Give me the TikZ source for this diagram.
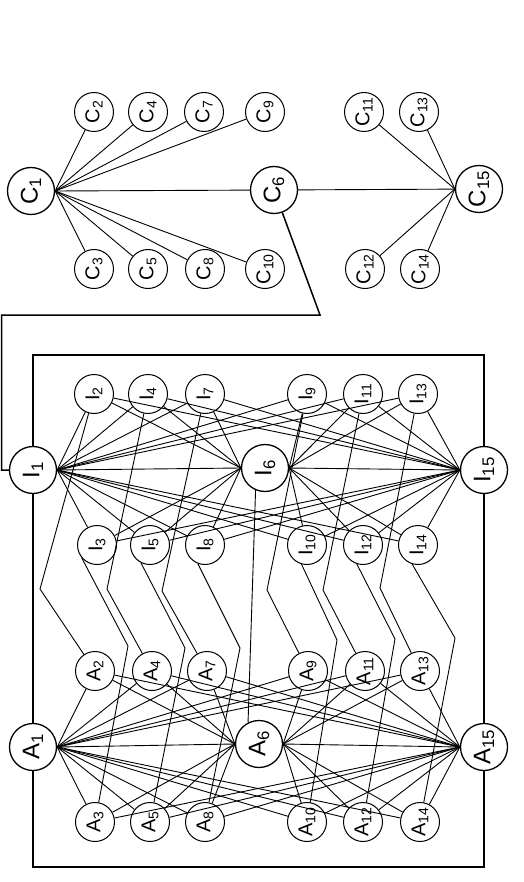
\documentclass[tikz,border=0pt]{standalone}
\usepackage{fontspec}
\setmainfont{Liberation Sans}
\usepackage{graphicx}
\usetikzlibrary{calc}

\newcommand{\lbl}[2]{\rotatebox{90}{#1\textsubscript{#2}}}

\begin{document}
\begin{tikzpicture}[x=1pt,y=-1pt,
  small/.style={circle,draw,line width=1pt,minimum size=39pt,inner sep=0pt,
    font=\fontsize{20}{20}\selectfont},
  hub/.style={circle,draw,line width=1.3pt,minimum size=47pt,inner sep=0pt,
    font=\fontsize{24}{24}\selectfont},
  wire/.style={line width=0.9pt},
  frame/.style={line width=1.5pt}]
    \useasboundingbox (0,0) rectangle (523,882);
    % C group
    \node[hub] (C1) at (31,191) {\lbl{C}{1}};
    \node[hub] (C6) at (274,190) {\lbl{C}{6}};
    \node[hub] (C15) at (479,189) {\lbl{C}{15}};
    \foreach \n/\x in {2/94,4/148,7/204,9/265,11/364,13/419}
      \node[small] (C\n) at (\x,112) {\lbl{C}{\n}};
    \foreach \n/\x in {3/94,5/148,8/205,10/265,12/365,14/420}
      \node[small] (C\n) at (\x,269) {\lbl{C}{\n}};
    % I group
    \node[hub] (I1) at (33,470) {\lbl{I}{1}};
    \node[hub] (I6) at (265,468) {\lbl{I}{6}};
    \node[hub] (I15) at (484,470) {\lbl{I}{15}};
    \foreach \n/\x in {2/94,4/148,7/205,9/307,11/363,13/418}
      \node[small] (I\n) at (\x,394) {\lbl{I}{\n}};
    \foreach \n/\x in {3/97,5/150,8/205,10/307,12/363,14/418}
      \node[small] (I\n) at (\x,545) {\lbl{I}{\n}};
    % A group
    \node[hub] (A1) at (33,747) {\lbl{A}{1}};
    \node[hub] (A6) at (259,744) {\lbl{A}{6}};
    \node[hub] (A15) at (484,747) {\lbl{A}{15}};
    \foreach \n/\x in {2/95,4/152,7/207,9/308,11/365,13/420}
      \node[small] (A\n) at (\x,671) {\lbl{A}{\n}};
    \foreach \n/\x in {3/95,5/150,8/205,10/307,12/363,14/420}
      \node[small] (A\n) at (\x,822) {\lbl{A}{\n}};
    %
    \coordinate (frametop) at (0,355);
    \coordinate (framebot) at (0,867);
    \coordinate (c6bend) at (320,315);
    \coordinate (leftturn) at (1.5,315);
    \foreach \n/\bx/\by in {2/40/589,4/107/589,7/162/591,9/267/590,11/323/590,13/380/588,
      3/128/646,5/185/648,8/240/648,10/337/640,12/395/639,14/455/638}
      \coordinate (bend\n) at (\bx,\by);
    %
    \foreach \n in {2,3,4,5,7,8,9,10,6}
      \draw[wire] (C1.east) -- (C\n);
    \draw[wire] (C6) -- (C15);
    \foreach \n in {11,12,13,14}
      \draw[wire] (C15.west) -- (C\n);
    \draw[frame] (C6) -- (c6bend) -- (leftturn) |- (I1);
    %
    \foreach \g in {I,A} {
      \foreach \n in {2,3,4,5,7,8,9,10,11,12,13,14} {
        \draw[wire] (\g1.east) -- (\g\n);
        \draw[wire] (\g15.west) -- (\g\n);
      }
      \foreach \n in {2,3,4,5,7,8}
        \draw[wire] (\g6.west) -- (\g\n);
      \foreach \n in {9,10,11,12,13,14}
        \draw[wire] (\g6.east) -- (\g\n);
      \draw[wire] (\g1.east) -- (\g6.west);
      \draw[wire] (\g6.east) -- (\g15.west);
    }
    %
    \foreach \n in {2,4,7,9,11,13}
      \draw[wire] (I\n) -- (bend\n) -- (A\n);
    \foreach \n/\a in {3/220,5/243,8/249,10/254,12/252,14/253}
      \draw[wire] (I\n.\a) -- (bend\n) -- (A\n);
    \draw[wire] (I6.247) -- (A6.117);
    %
    \draw[frame] (I1) |- (frametop -| I15) -- (I15);
    \draw[frame] (I1) -- (A1);
    \draw[frame] (I15) -- (A15);
    \draw[frame] (A1) |- (framebot -| A15) -- (A15);
\end{tikzpicture}
\end{document}
